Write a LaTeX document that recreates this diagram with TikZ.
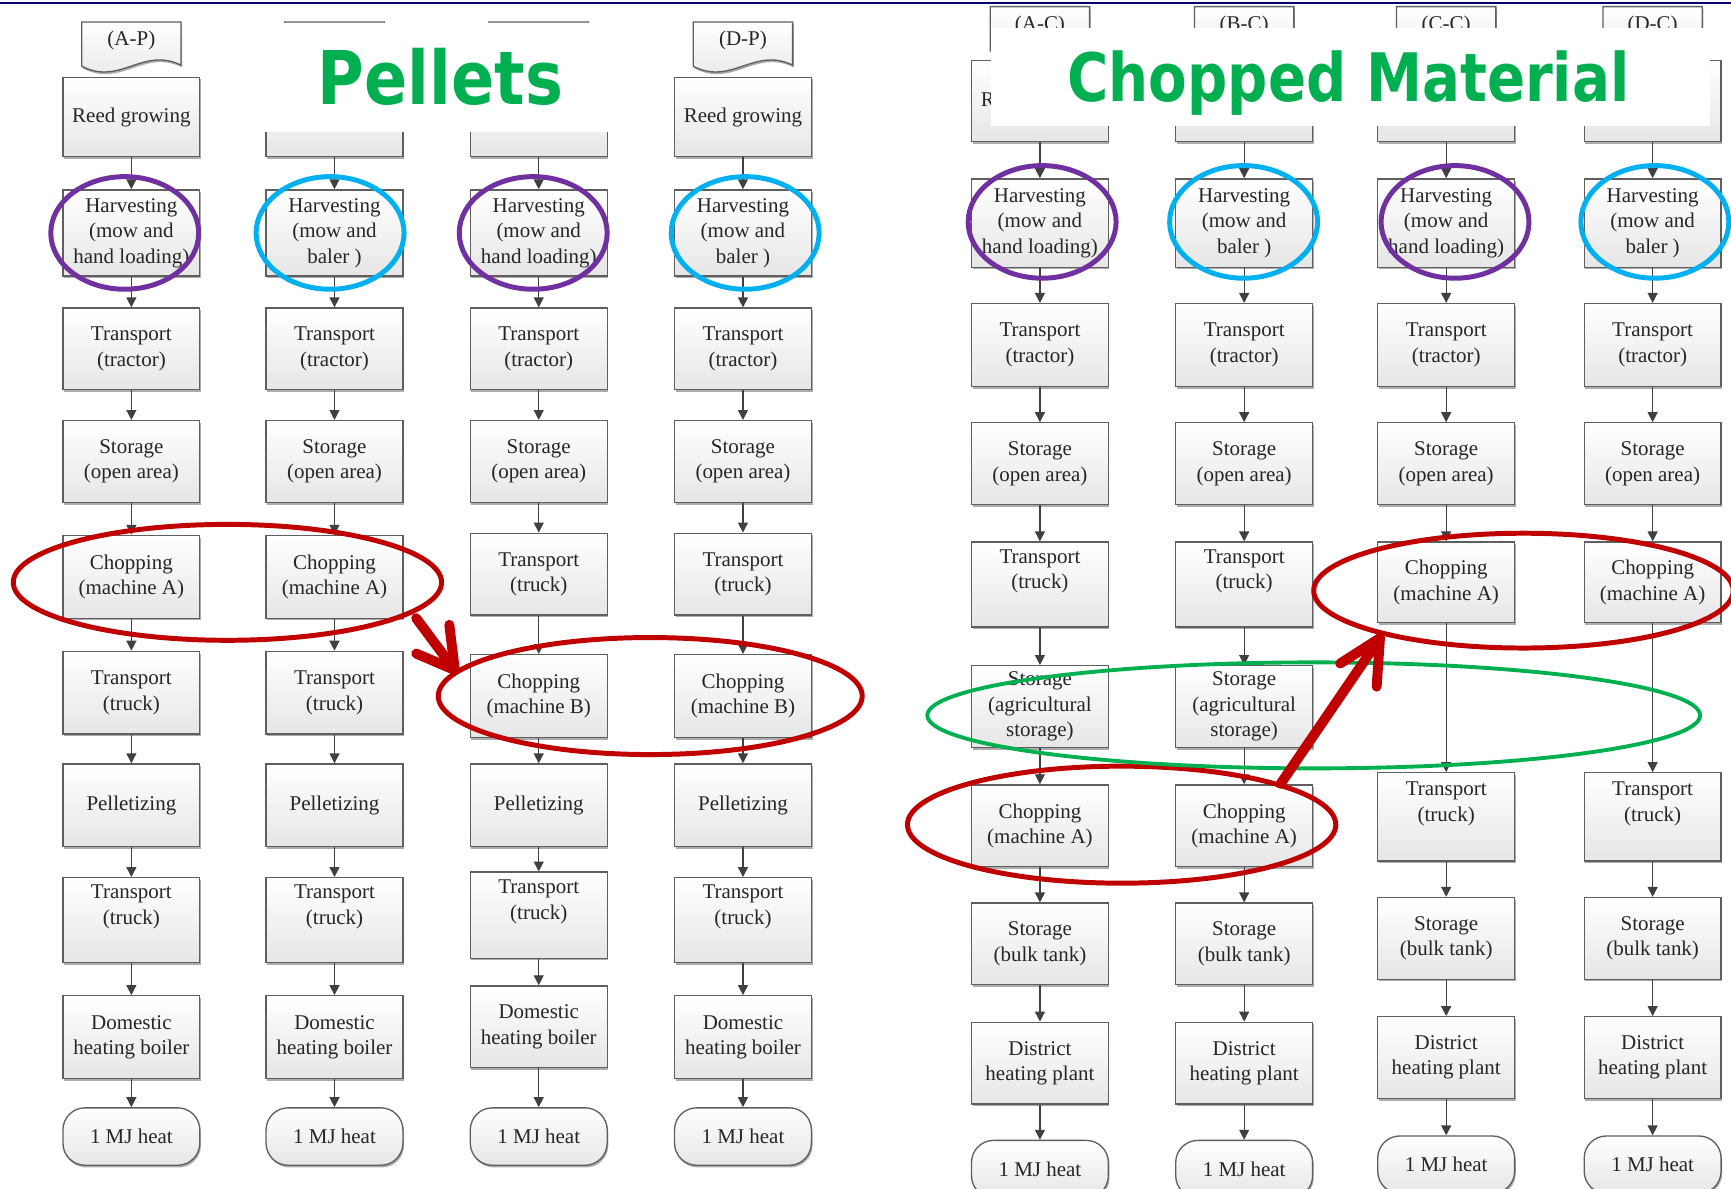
\documentclass[tikz,border=0pt]{standalone}
\usepackage{fontspec}
\setmainfont{Liberation Serif}
\newfontfamily\titlefont{DejaVu Sans}
\usetikzlibrary{arrows.meta,shadows}
\definecolor{navyline}{RGB}{0,0,110}
\definecolor{hlpurple}{RGB}{112,48,160}
\definecolor{hlblue}{RGB}{0,176,240}
\definecolor{hlred}{RGB}{192,0,0}
\definecolor{hlgreen}{RGB}{0,176,80}
\definecolor{boxline}{RGB}{95,95,95}
\definecolor{connline}{RGB}{64,64,64}
\definecolor{boxbottom}{RGB}{230,230,230}
\tikzset{
  boxbase/.style={draw=boxline, line width=1.2pt, top color=white, bottom color=boxbottom,
    minimum width=124pt, inner sep=0pt,
    drop shadow={shadow xshift=1pt, shadow yshift=-2pt, fill=gray!65, opacity=1}},
  pbox/.style={boxbase, rectangle},
  termbox/.style={boxbase, rectangle, rounded corners=20pt},
  btxt/.style={font=\fontsize{19pt}{23pt}\selectfont, align=center, inner sep=0pt, text=black!85},
  conn/.style={draw=connline, line width=1.2pt, -{Triangle[length=9pt,width=9pt]}},
  ring/.style={line width=4.5pt},
  greenring/.style={draw=hlgreen, line width=3.5pt},
  redarrow/.style={draw=hlred, line width=9pt, line cap=round, line join=round},
  titletxt/.style={anchor=base, inner sep=0pt, text=hlgreen}
}
% name, cx, cy, height, text shift, text
\newcommand\mybox[6]{%
  \node[pbox, minimum height=#4pt] (#1) at (#2,#3) {};
  \node[btxt] (#1t) at ([yshift=#5pt]#1.center) {#6};}
% name, cx, cy
\newcommand\myterm[3]{%
  \node[termbox, minimum height=52pt, btxt] (#1) at (#2,#3) {1 MJ heat};}
% name, cx, top, label
\newcommand\mytag[4]{%
  \path[draw=boxline, line width=1.2pt, top color=white, bottom color=boxbottom,
    drop shadow={shadow xshift=1pt, shadow yshift=-2pt, fill=gray!65, opacity=1}]
    (#2-45,#3) -- (#2+45,#3) -- (#2+45,#3+39)
    .. controls (#2+10,#3+22) and (#2-10,#3+58) .. (#2-45,#3+40) -- cycle;
  \node[btxt] (#1) at (#2,#3+17) {#4};}
\newcommand\harvH{Harvesting\\(mow and\\hand loading)}
\newcommand\harvB{Harvesting\\(mow and\\baler )}
\newcommand\reedT{Reed growing}
\newcommand\hiddenT{}
\begin{document}
\begin{tikzpicture}[x=1pt,y=-1pt]
\useasboundingbox (0,0) rectangle (1568,1077);
\clip (0,0) rectangle (1568,1077);
\fill[white] (0,0) rectangle (1568,1077);
\draw[navyline, line width=2pt] (0,3) -- (1568,3);

% ---------------- Pellets: tags ----------------
\mytag{tagAP}{119}{20}{(A-P)}
\mytag{tagBP}{303}{20}{}
\mytag{tagCP}{488}{20}{}
\mytag{tagDP}{673}{20}{(D-P)}

% ---------------- Pellets columns ----------------
\foreach \cx/\nm/\hv/\rd in {119/P1/\harvH/\reedT, 303/P2/\harvB/\hiddenT}{
  \mybox{\nm r1}{\cx}{106}{72}{0}{\rd}
  \mybox{\nm r2}{\cx}{211}{78}{0}{\hv}
  \mybox{\nm r3}{\cx}{316}{74}{0}{Transport\\(tractor)}
  \mybox{\nm r4}{\cx}{418}{74}{0}{Storage\\(open area)}
  \mybox{\nm r5}{\cx}{522.5}{75}{0}{Chopping\\(machine A)}
  \mybox{\nm r6}{\cx}{627.5}{75}{0}{Transport\\(truck)}
  \mybox{\nm r7}{\cx}{729.5}{75}{0}{Pelletizing}
  \mybox{\nm r8}{\cx}{833.5}{77}{12}{Transport\\(truck)}
  \mybox{\nm r9}{\cx}{939.5}{75}{0}{Domestic\\heating boiler}
  \myterm{\nm r10}{\cx}{1029.5}
}
\foreach \cx/\nm/\hv/\rd in {488/P3/\harvH/\hiddenT, 673/P4/\harvB/\reedT}{
  \mybox{\nm r1}{\cx}{106}{72}{0}{\rd}
  \mybox{\nm r2}{\cx}{211}{78}{0}{\hv}
  \mybox{\nm r3}{\cx}{316}{74}{0}{Transport\\(tractor)}
  \mybox{\nm r4}{\cx}{418}{74}{0}{Storage\\(open area)}
  \mybox{\nm r5}{\cx}{520}{74}{0}{Transport\\(truck)}
  \mybox{\nm r6}{\cx}{630.5}{75}{0}{Chopping\\(machine B)}
  \mybox{\nm r7}{\cx}{729.5}{75}{0}{Pelletizing}
  \myterm{\nm r10}{\cx}{1029.5}
}
\mybox{P3r8}{488}{829}{78}{12}{Transport\\(truck)}
\mybox{P3r9}{488}{930}{74}{0}{Domestic\\heating boiler}
\mybox{P4r8}{673}{833.5}{77}{12}{Transport\\(truck)}
\mybox{P4r9}{673}{939.5}{75}{0}{Domestic\\heating boiler}

% ---------------- Chopped: tags ----------------
\mytag{tagAC}{942}{6}{(A-C)}
\mytag{tagBC}{1127}{6}{(B-C)}
\mytag{tagCC}{1310}{6}{(C-C)}
\mytag{tagDC}{1497}{6}{(D-C)}

% ---------------- Chopped columns ----------------
\foreach \cx/\nm/\hv/\rd in {942/C1/\harvH/\reedT, 1127/C2/\harvB/\hiddenT}{
  \mybox{\nm r1}{\cx}{91.5}{73}{0}{\rd}
  \mybox{\nm r2}{\cx}{202}{80}{0}{\hv}
  \mybox{\nm r3}{\cx}{312.5}{75}{0}{Transport\\(tractor)}
  \mybox{\nm r4}{\cx}{420}{74}{0}{Storage\\(open area)}
  \mybox{\nm r5}{\cx}{529.5}{77}{12}{Transport\\(truck)}
  \mybox{\nm r6}{\cx}{640}{74}{0}{Storage\\(agricultural\\storage)}
  \mybox{\nm r7}{\cx}{748}{74}{0}{Chopping\\(machine A)}
  \mybox{\nm r8}{\cx}{855}{74}{0}{Storage\\(bulk tank)}
  \mybox{\nm r9}{\cx}{963}{74}{0}{District\\heating plant}
  \myterm{\nm r10}{\cx}{1059}
}
\foreach \cx/\nm/\hv in {1310/C3/\harvH, 1497/C4/\harvB}{
  \mybox{\nm r1}{\cx}{91.5}{73}{0}{}
  \mybox{\nm r2}{\cx}{202}{80}{0}{\hv}
  \mybox{\nm r3}{\cx}{312.5}{75}{0}{Transport\\(tractor)}
  \mybox{\nm r4}{\cx}{420}{74}{0}{Storage\\(open area)}
  \mybox{\nm r5}{\cx}{527.5}{73}{0}{Chopping\\(machine A)}
  \mybox{\nm r6}{\cx}{740}{80}{12}{Transport\\(truck)}
  \mybox{\nm r7}{\cx}{850}{74}{0}{Storage\\(bulk tank)}
  \mybox{\nm r8}{\cx}{958}{74}{0}{District\\heating plant}
  \myterm{\nm r9}{\cx}{1055}
}

% ---------------- connectors ----------------
\foreach \col in {P1,P2,P3,P4,C1,C2}{
  \foreach \i in {1,...,9}{
    \pgfmathtruncatemacro\j{\i+1}
    \draw[conn] (\col r\i.south) -- (\col r\j.north);
  }
}
\foreach \col in {C3,C4}{
  \foreach \i in {1,...,8}{
    \pgfmathtruncatemacro\j{\i+1}
    \draw[conn] (\col r\i.south) -- (\col r\j.north);
  }
}

% ---------------- title covers and titles ----------------
\fill[white] (195,21) rectangle (598,120);
\fill[white] (898,25) rectangle (1549,114);
\node[titletxt] (tPel) at (399,95) {\resizebox{222pt}{51pt}{\titlefont\bfseries Pellets}};
\node[titletxt] (tChop) at (1221.5,92) {\resizebox{509pt}{46pt}{\titlefont\bfseries Chopped Material}};

% ---------------- highlight rings ----------------
\draw[hlpurple, ring] (113,211) ellipse [x radius=67pt, y radius=51pt];
\draw[hlblue, ring] (299,211) ellipse [x radius=67pt, y radius=51pt];
\draw[hlpurple, ring] (483,211) ellipse [x radius=67pt, y radius=51pt];
\draw[hlblue, ring] (675,211) ellipse [x radius=67pt, y radius=51pt];
\draw[hlpurple, ring] (944,201) ellipse [x radius=67pt, y radius=51pt];
\draw[hlblue, ring] (1126.5,201) ellipse [x radius=67pt, y radius=51pt];
\draw[hlpurple, ring] (1318,201) ellipse [x radius=67pt, y radius=51pt];
\draw[hlblue, ring] (1499,201) ellipse [x radius=67pt, y radius=51pt];

\draw[hlred, ring] (206,527.5) ellipse [x radius=194pt, y radius=52.5pt];
\draw[hlred, ring] (589,630.5) ellipse [x radius=192pt, y radius=53pt];
\draw[hlred, ring] (1380,535) ellipse [x radius=190pt, y radius=52pt];
\draw[hlred, ring] (1016,747) ellipse [x radius=194pt, y radius=53pt];
\draw[greenring] (1190,648) ellipse [x radius=350pt, y radius=48pt];

% ---------------- red arrows ----------------
\coordinate (raAs) at (377,560);
\coordinate (raAt) at (412,607);
\coordinate (raAl) at (377,592);
\coordinate (raAr) at (407,566);
\draw[redarrow] (raAs) -- (raAt);
\draw[redarrow] (raAl) -- (raAt) -- (raAr);
\coordinate (raBs) at (1160,710);
\coordinate (raBt) at (1250,578);
\coordinate (raBl) at (1214,601);
\coordinate (raBr) at (1247,622);
\draw[redarrow] (raBs) -- (raBt);
\draw[redarrow] (raBl) -- (raBt) -- (raBr);
\end{tikzpicture}
\end{document}
